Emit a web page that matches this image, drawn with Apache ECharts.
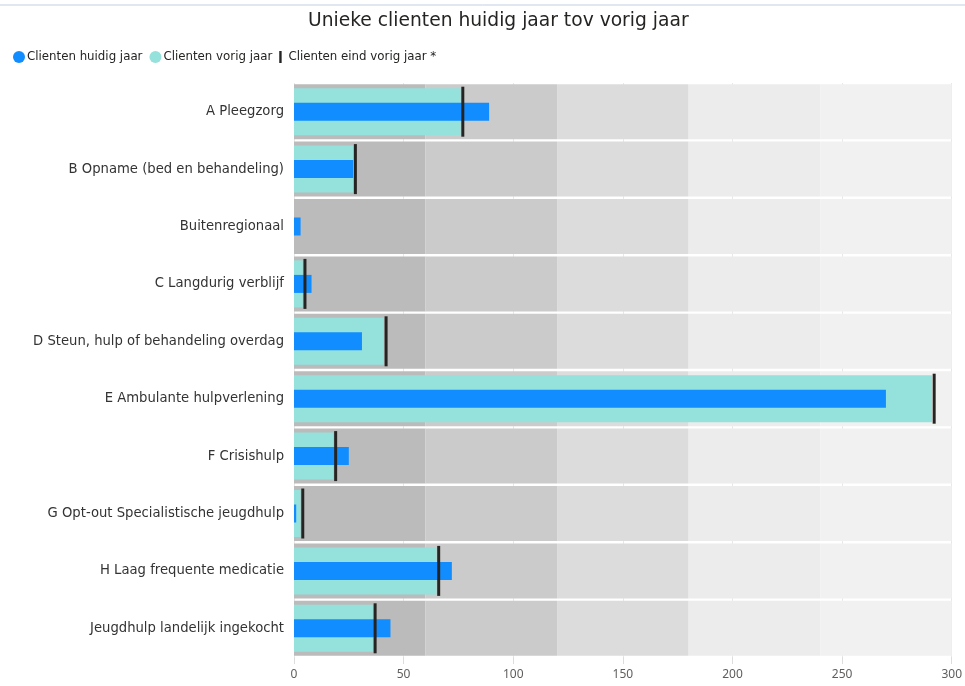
<!DOCTYPE html>
<html><head><meta charset="utf-8">
<script src="https://cdn.jsdelivr.net/npm/echarts@6/dist/echarts.min.js"></script>
<style>html,body{margin:0;padding:0;background:#fff}#c{width:965px;height:686px}</style>
</head><body><div id="c"></div>
<script>
const categories = ["A Pleegzorg","B Opname (bed en behandeling)","Buitenregionaal","C Langdurig verblijf","D Steun, hulp of behandeling overdag","E Ambulante hulpverlening","F Crisishulp","G Opt-out Specialistische jeugdhulp","H Laag frequente medicatie","Jeugdhulp landelijk ingekocht"];
const huidigJaar = [89, 27, 3, 8, 31, 270, 25, 1, 72, 44];
const vorigJaar = [76, 27, 0, 4, 41, 291, 18, 3, 65, 36];
const eindVorigJaar = [77, 28, null, 5, 42, 292, 19, 4, 66, 37];
const bandEdges = [60, 120, 180, 240, 300];
const bandColors = ['#bbbbbb','#cbcbcb','#dcdcdc','#ececec','#f1f1f1'];
const xTicks = [0, 50, 100, 150, 200, 250, 300];

const FONT = 'Noto Sans';
const LFONT = 'DejaVu Sans';
const chart = echarts.init(document.getElementById('c'), null, {renderer:'canvas'});

const bandSeries = bandEdges.map((edge, i) => ({
  name: 'band' + i, type: 'bar', stack: 'bg', yAxisIndex: 0, barWidth: 55, silent: true,
  itemStyle: {color: bandColors[i]},
  data: categories.map(() => edge - (i ? bandEdges[i-1] : 0)),
  z: 1
}));

const catAxis = (show) => ({
  type: 'category', data: categories, inverse: true, show: show,
  axisLine: {show: false}, axisTick: {show: false},
  axisLabel: {show: show, color: '#333333', fontSize: 13.2, fontFamily: LFONT, margin: 10}
});

chart.setOption({
  animation: false,
  textStyle: {fontFamily: FONT},
  title: {text: 'Unieke clienten huidig jaar tov vorig jaar', left: 303, top: 7,
    textStyle: {fontSize: 18.7, fontWeight: 'normal', color: '#252423', fontFamily: LFONT}},
  legend: {left: 8, top: 46, itemWidth: 12, itemHeight: 12, itemGap: 7,
    textStyle: {fontSize: 11.8, color: '#252423', fontFamily: LFONT, padding: [0,0,0,-3]},
    data: [
      {name: 'Clienten huidig jaar', icon: 'circle'},
      {name: 'Clienten vorig jaar', icon: 'circle'},
      {name: 'Clienten eind vorig jaar *', icon: 'path://M0,0h2v10h-2z'}
    ]},
  grid: {left: 294, right: 12, top: 83, bottom: 29, containLabel: false},
  xAxis: {type: 'value', min: 0, max: 300, interval: 50,
    axisLine: {show: false},
    axisTick: {show: true, length: 7, lineStyle: {color: '#dddddd'}},
    axisLabel: {color: '#605e5c', fontSize: 12, fontFamily: FONT, margin: 12,
      formatter: v => xTicks.includes(v) ? String(v) : ''},
    splitLine: {show: true, lineStyle: {color: '#e8e8e8'}}},
  yAxis: [catAxis(true), catAxis(false), catAxis(false)],
  graphic: [{type: 'line', shape: {x1: 0, y1: 5, x2: 965, y2: 5}, style: {stroke: '#c2cfe2', lineWidth: 1}}],
  series: [
    ...bandSeries,
    {name: 'Clienten vorig jaar', type: 'bar', yAxisIndex: 1, barWidth: 47, data: vorigJaar,
      itemStyle: {color: '#95e1db'}, z: 3},
    {name: 'Clienten huidig jaar', type: 'bar', yAxisIndex: 2, barWidth: 18, data: huidigJaar,
      itemStyle: {color: '#118dff'}, z: 4},
    {name: 'Clienten eind vorig jaar *', type: 'scatter', yAxisIndex: 0, symbol: 'rect', symbolSize: [3, 50],
      itemStyle: {color: '#252423', opacity: 1},
      data: eindVorigJaar.map((v, i) => v == null ? null : [v, categories[i]]), z: 5}
  ]
});
</script></body></html>
